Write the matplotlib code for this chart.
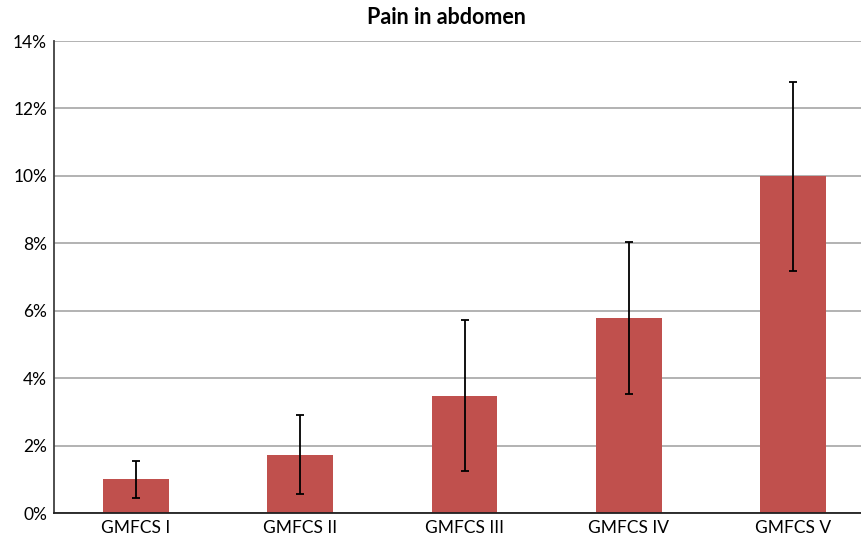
import matplotlib
matplotlib.use('Agg')
import matplotlib.pyplot as plt
import numpy as np

plt.rcParams['font.family'] = ['Lato', 'DejaVu Sans']

categories = ['GMFCS I', 'GMFCS II', 'GMFCS III', 'GMFCS IV', 'GMFCS V']
values = [1.0, 1.73, 3.48, 5.79, 10.0]
err_low = [0.45, 0.56, 1.25, 3.54, 7.18]
err_high = [1.55, 2.91, 5.73, 8.04, 12.79]
yticks = [0, 2, 4, 6, 8, 10, 12, 14]

fig = plt.figure(figsize=(8.62, 5.39), dpi=100)
# the plot area runs a little past the right edge of the picture
ax = fig.add_axes([54/862, 26/539, 821/862, 472/539])

x = np.arange(len(categories))
vals = np.array(values)
yerr = [vals - np.array(err_low), np.array(err_high) - vals]

ax.bar(x, vals, width=0.4, color='#C0504D', zorder=2)
ax.errorbar(x, vals, yerr=yerr, fmt='none', ecolor='black', elinewidth=1.3,
            capsize=3, capthick=1.3, zorder=3)

ax.set_xlim(-0.5, len(categories) - 0.5)
ax.set_ylim(0, 14)
ax.set_yticks(yticks)
ax.set_yticklabels([f'{t}%' for t in yticks], fontsize=12.5)
ax.set_xticks(x)
ax.set_xticklabels(categories, fontsize=12.5)
ax.tick_params(axis='both', length=0, pad=5)

ax.yaxis.grid(True, color='#A6A6A6', linewidth=1.2, zorder=0)
ax.set_axisbelow(True)
for s in ['top', 'right']:
    ax.spines[s].set_visible(False)
ax.spines['left'].set_color('#404040')
ax.spines['bottom'].set_color('#202020')
ax.spines['left'].set_linewidth(1.3)
ax.spines['bottom'].set_linewidth(1.3)

fig.text(446/862, 1 - 18/539, 'Pain in abdomen', ha='center', va='center',
         fontsize=15.5, fontweight='bold')

fig.savefig('out.png', dpi=100)
